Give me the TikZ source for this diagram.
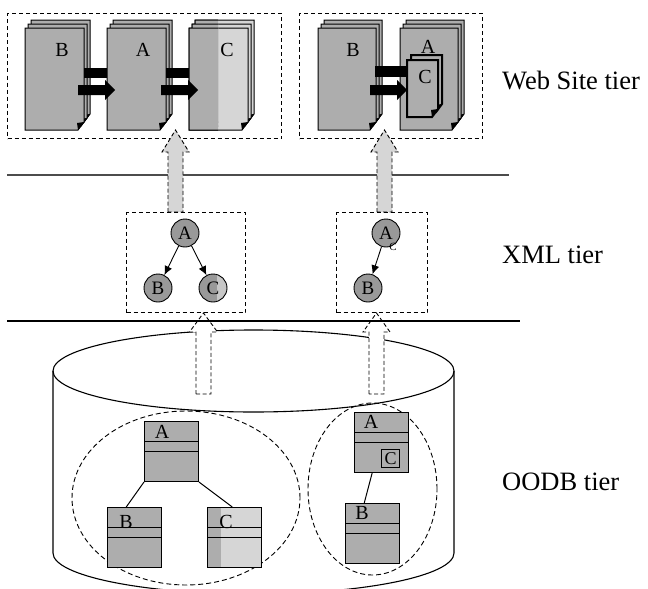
\documentclass[tikz,border=0pt]{standalone}
\usepackage{fontspec}
\setmainfont{Liberation Serif}
\usetikzlibrary{arrows.meta,shapes.geometric,calc}

\definecolor{stipple}{gray}{0.68}
\definecolor{lightstipple}{gray}{0.84}
\definecolor{ballgray}{gray}{0.6}
\definecolor{rulegray}{gray}{0.3}

\tikzset{
  tierbox/.style={draw, line width=1pt, dash pattern=on 4pt off 3pt, inner sep=0pt, anchor=north west},
  pageedge/.style={line width=1pt},
  pagelabel/.style={font=\fontsize{20}{20}\selectfont, inner sep=0pt},
  tierlabel/.style={font=\fontsize{26.5}{30}\selectfont, anchor=base west, inner sep=0pt},
  ball/.style={circle, draw, line width=0.9pt, fill=ballgray, minimum size=28pt, inner sep=0pt,
    font=\fontsize{19}{19}\selectfont},
  treearrow/.style={-{Latex[length=9pt,width=8pt]}, line width=0.9pt},
  umlbox/.style={draw, line width=1pt, fill=stipple, minimum width=54pt, minimum height=60pt,
    inner sep=0pt, anchor=north west},
  umllabel/.style={font=\fontsize{20}{20}\selectfont, inner sep=0pt},
  cluster/.style={draw, ellipse, dash pattern=on 5pt off 3pt, line width=0.9pt, inner sep=0pt},
  liftgray/.style={fill=lightstipple, draw, line width=0.9pt, dash pattern=on 4pt off 2.5pt},
  liftwhite/.style={fill=white, draw, line width=0.9pt, dash pattern=on 4pt off 2.5pt},
  link/.style={line width=1pt},
}

% one sheet with a folded lower right corner: x0, y0, x1, y1, fill
\newcommand\pagelayer[5]{%
  \filldraw[pageedge, fill=#5] (#1,#2) -- (#3,#2) -- (#3,#4-8) -- (#3-6,#4) -- (#1,#4) -- cycle;
  \fill[black] (#3,#4-8) -- (#3-6,#4) -- (#3-7,#4-7) -- cycle;}

% a stack of three sheets
\newcommand\docstack[5]{%
  \pagelayer{#1+6}{#2-8}{#3+6}{#4-8}{#5}%
  \pagelayer{#1+3}{#2-4}{#3+3}{#4-4}{#5}%
  \pagelayer{#1}{#2}{#3}{#4}{#5}}

% solid link arrow between pages: x start, x head base, x tip, y middle
\newcommand\flowarrow[4]{%
  \fill[black] (#1,#4-5) -- (#2,#4-5) -- (#2,#4-10) -- (#3,#4) -- (#2,#4+10) -- (#2,#4+5) -- (#1,#4+5) -- cycle;}

% hollow upward block arrow: style, x centre, shaft half width, head half width, y bottom, y head base, y tip
\newcommand\blockarrow[7]{%
  \filldraw[#1] (#2-#3,#5) -- (#2-#3,#6) -- (#2-#4,#6) -- (#2,#7) -- (#2+#4,#6) -- (#2+#3,#6) -- (#2+#3,#5) -- cycle;}

\begin{document}
\begin{tikzpicture}[x=1pt,y=-1pt]
\clip (0,0) rectangle (648,589);
\fill[white] (0,0) rectangle (648,589);

% ---------- Web site tier ----------
\node[tierbox, minimum width=274pt, minimum height=125pt] (webL) at (7,13) {};
\node[tierbox, minimum width=183pt, minimum height=125pt] (webR) at (299,13) {};

\docstack{25}{28}{84}{130}{stipple}
\docstack{107}{28}{166}{130}{stipple}
\docstack{189}{28}{248}{130}{lightstipple}
\begin{scope}
  \clip (180,10) rectangle (218,140);
  \docstack{189}{28}{248}{130}{stipple}
\end{scope}
\fill[black] (84,68) rectangle (107,78);
\fill[black] (166,68) rectangle (189,78);
\flowarrow{78}{105}{115}{90}
\flowarrow{161}{188}{198}{90}
\node[pagelabel] (pB) at (62,50) {B};
\node[pagelabel] (pA) at (143,50) {A};
\node[pagelabel] (pC) at (227,50) {C};

\docstack{318}{28}{376}{130}{stipple}
\docstack{400}{28}{458}{130}{stipple}
\begin{scope}
  \tikzset{pageedge/.style={line width=2pt}}
  \pagelayer{411}{55}{442}{112}{stipple}
  \pagelayer{407}{60}{438}{117}{stipple}
\end{scope}
\fill[black] (375,66) rectangle (407,77);
\flowarrow{370}{397}{407}{90}
\node[pagelabel] (qB) at (353,50) {B};
\node[pagelabel] (qA) at (428,47) {A};
\node[pagelabel] (qC) at (425,77) {C};

\draw[rulegray, line width=1.2pt] (7,175) -- (509,175);

\blockarrow{liftgray}{175.5}{7.5}{13.5}{212}{152}{130}
\blockarrow{liftgray}{384.5}{7.5}{13.5}{212}{152}{130}

% ---------- XML tier ----------
\node[tierbox, minimum width=119pt, minimum height=100pt] (xmlL) at (126,212) {};
\node[tierbox, minimum width=91pt, minimum height=100pt] (xmlR) at (336,212) {};

\node[ball] (xA) at (185,233) {A};
\node[ball] (xB) at (158,288) {B};
\node[ball, path picture={\fill[ballgray!55!white]
    ([xshift=4pt]path picture bounding box.south) rectangle (path picture bounding box.north east);}]
  (xC) at (213,288) {C};
\draw[treearrow] (xA) -- (xB);
\draw[treearrow] (xA) -- (xC);

\node[ball] (yA) at (386,233) {A};
\node[ball] (yB) at (368,288) {B};
\node[font=\fontsize{11}{11}\selectfont, inner sep=0pt] (yC) at (393,247) {C};
\draw[treearrow] (yA) -- (yB);

% ---------- OODB tier ----------
\draw[line width=1.1pt] (53,371) -- (53,553)
  arc[start angle=180, end angle=360, x radius=200.5pt, y radius=41pt] -- (454,371);
\draw[line width=1.1pt] (253.5,371) ellipse[x radius=200.5pt, y radius=41pt];

\node[cluster, minimum width=228pt, minimum height=174pt] (oL) at (186,498) {};
\node[cluster, minimum width=129pt, minimum height=172pt] (oR) at (372.5,489) {};

\node[umlbox] (uA) at (144,421) {};
\node[umlbox] (uB) at (107,507) {};
\node[umlbox, path picture={\fill[lightstipple]
    ([xshift=13pt]path picture bounding box.south west) rectangle (path picture bounding box.north east);}]
  (uC) at (207,507) {};
\node[umlbox] (vA) at (354,412) {};
\node[umlbox] (vB) at (345,503) {};
\foreach \b in {uA,uB,uC,vA,vB}{
  \draw[link] ([yshift=-20pt]\b.north west) -- ([yshift=-20pt]\b.north east);
  \draw[link] ([yshift=-30pt]\b.north west) -- ([yshift=-30pt]\b.north east);
}
\node[draw, line width=1pt, fill=stipple, minimum width=18pt, minimum height=18pt, inner sep=0pt,
  anchor=north west, font=\fontsize{18}{18}\selectfont] (vC) at (381,449) {C};

\node[umllabel] (luA) at (162,432) {A};
\node[umllabel] (luB) at (126,522) {B};
\node[umllabel] (luC) at (226,522) {C};
\node[umllabel] (lvA) at (371,422) {A};
\node[umllabel] (lvB) at (362,513) {B};

\draw[link] (uA.south west) -- ($(uB.north west)!0.35!(uB.north east)$);
\draw[link] (uA.south east) -- ($(uC.north west)!0.46!(uC.north east)$);
\draw[link] ($(vA.south west)!0.33!(vA.south east)$) -- ($(vB.north west)!0.35!(vB.north east)$);

\blockarrow{liftwhite}{203.5}{7.5}{14}{394}{332}{313}
\blockarrow{liftwhite}{376.5}{7.5}{13.5}{394}{332}{313}

\draw[line width=1.5pt] (7,321) -- (520,321);

% ---------- tier names ----------
\node[tierlabel] (t1) at (502,89) {Web Site tier};
\node[tierlabel] (t2) at (502,263) {XML tier};
\node[tierlabel] (t3) at (502,490) {OODB tier};
\end{tikzpicture}
\end{document}
